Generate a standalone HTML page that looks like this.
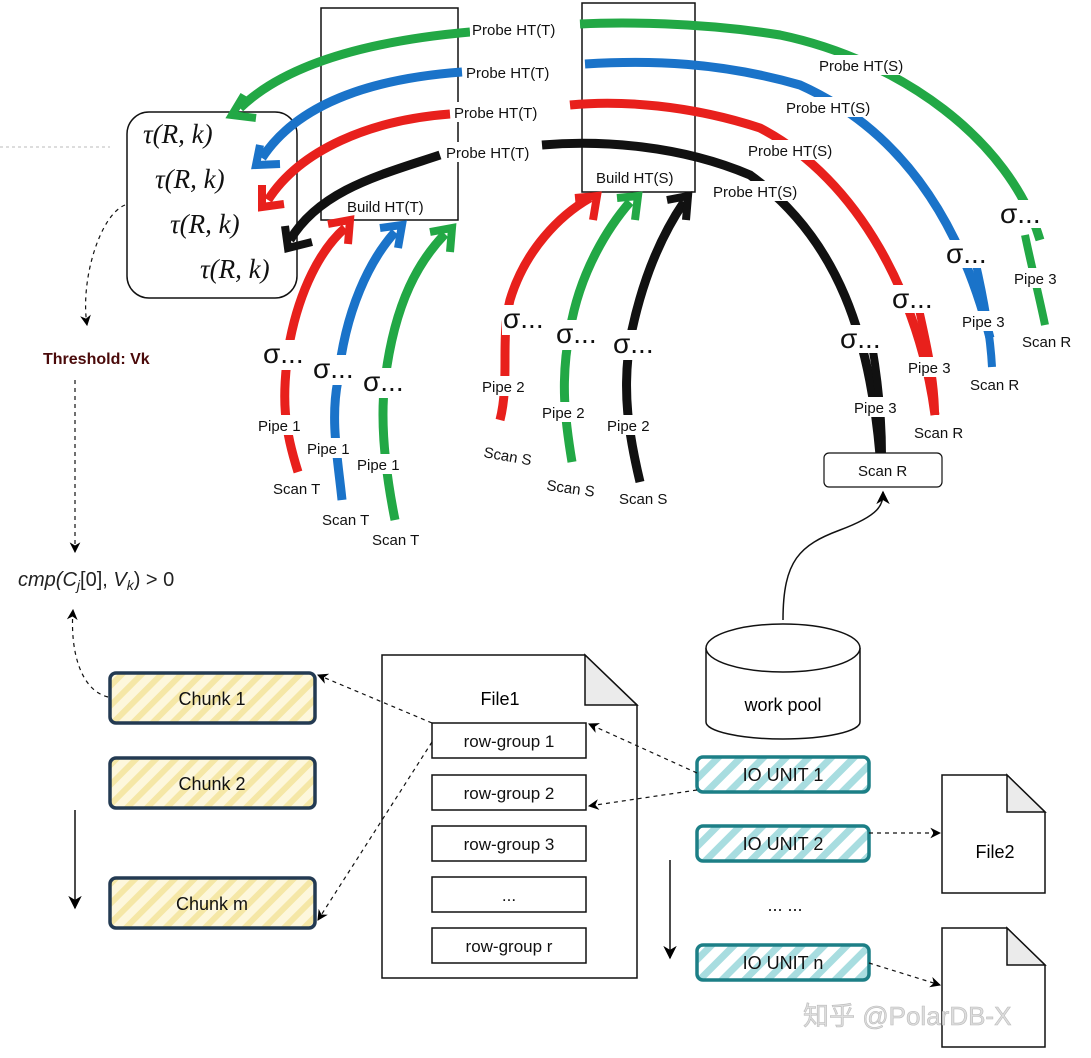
<!DOCTYPE html>
<html><head><meta charset="utf-8"><style>
html,body{margin:0;padding:0;background:#fff;}
svg{display:block;}
text{font-family:"Liberation Sans",sans-serif;}
.lab{font-size:15px;fill:#111;}
.tau{font-family:"Liberation Serif",serif;font-style:italic;font-size:27px;fill:#111;}
.sg{font-family:"Liberation Serif",serif;font-size:28px;fill:#111;}
</style></head><body>
<svg width="1091" height="1058" viewBox="0 0 1091 1058" xmlns="http://www.w3.org/2000/svg">
<defs>
<pattern id="yh" width="14" height="14" patternUnits="userSpaceOnUse" patternTransform="rotate(45)"><rect width="14" height="14" fill="#fdf7dc"/><rect width="6" height="14" fill="#f5e7a6"/></pattern>
<pattern id="th" width="16" height="16" patternUnits="userSpaceOnUse" patternTransform="rotate(45)"><rect width="16" height="16" fill="#fff"/><rect width="7" height="16" fill="#a8dde0"/></pattern>
<marker id="ad" viewBox="0 0 10 10" refX="9" refY="5" markerWidth="9" markerHeight="9" orient="auto"><path d="M0,0 L10,5 L0,10 L3,5z" fill="#000"/></marker>
</defs>
<line x1="0" y1="147" x2="110" y2="147" stroke="#bbb" stroke-dasharray="3,3"/>
<rect x="321" y="8" width="137" height="212" fill="none" stroke="#111" stroke-width="1.5"/>
<rect x="582" y="3" width="113" height="189" fill="none" stroke="#111" stroke-width="1.5"/>
<text x="347" y="212" class="lab" font-size="14">Build HT(T)</text>
<text x="596" y="183" class="lab" font-size="14">Build HT(S)</text>
<rect x="127" y="112" width="170" height="186" rx="22" fill="#fff" stroke="#111" stroke-width="1.5"/>
<text x="143" y="143" class="tau">τ(R, k)</text>
<text x="155" y="188" class="tau">τ(R, k)</text>
<text x="170" y="233" class="tau">τ(R, k)</text>
<text x="200" y="278" class="tau">τ(R, k)</text>
<g fill="none" stroke-width="9" stroke-linecap="butt">
<path d="M1040,240 C1010,140 900,60 780,35 C700,22 620,22 580,24" stroke="#22a845"/>
<path d="M470,32 C380,40 290,60 240,108" stroke="#22a845"/>
<path d="M990,338 C960,220 900,130 800,85 C720,62 650,60 585,64" stroke="#1a73c9"/>
<path d="M462,72 C380,78 300,100 262,158" stroke="#1a73c9"/>
<path d="M935,415 C920,300 860,180 760,128 C690,105 620,100 570,105" stroke="#e8201c"/>
<path d="M450,114 C370,120 300,150 268,200" stroke="#e8201c"/>
<path d="M880,455 C870,340 840,240 750,175 C680,145 600,140 542,145" stroke="#111"/>
<path d="M440,155 C380,175 320,190 290,240" stroke="#111"/>
<path d="M298,472 C285,430 280,400 290,340 C300,290 320,250 345,228" stroke="#e8201c"/>
<path d="M342,500 C338,460 330,420 338,380 C345,310 370,260 395,232" stroke="#1a73c9"/>
<path d="M395,520 C385,470 380,420 385,380 C395,300 420,260 445,234" stroke="#22a845"/>
<path d="M500,420 C510,380 500,340 510,300 C525,250 560,215 590,198" stroke="#e8201c"/>
<path d="M572,462 C565,420 560,380 570,330 C580,270 610,225 630,202" stroke="#22a845"/>
<path d="M640,482 C630,440 620,390 632,330 C645,270 665,230 684,202" stroke="#111"/>
</g>
<g fill="none" stroke-width="8" stroke-linejoin="miter">
<polyline points="244,95 232,115 256,118" stroke="#22a845"/>
<polyline points="260,145 256,165 280,164" stroke="#1a73c9"/>
<polyline points="262,185 262,207 284,204" stroke="#e8201c"/>
<polyline points="285,226 288,248 312,242" stroke="#111"/>
<polyline points="328,224 350,220 348,244" stroke="#e8201c"/>
<polyline points="380,228 402,225 398,248" stroke="#1a73c9"/>
<polyline points="430,232 452,228 450,252" stroke="#22a845"/>
<polyline points="575,198 597,196 593,220" stroke="#e8201c"/>
<polyline points="617,198 638,196 635,220" stroke="#22a845"/>
<polyline points="667,200 688,196 686,220" stroke="#111"/>
</g>
<g class="lab">
<rect x="470" y="19" width="96" height="20" fill="#fff"/><text x="472" y="35">Probe HT(T)</text>
<rect x="464" y="61" width="96" height="20" fill="#fff"/><text x="466" y="78">Probe HT(T)</text>
<rect x="452" y="102" width="96" height="20" fill="#fff"/><text x="454" y="118">Probe HT(T)</text>
<rect x="444" y="142" width="96" height="20" fill="#fff"/><text x="446" y="158">Probe HT(T)</text>
<rect x="817" y="55" width="96" height="20" fill="#fff"/><text x="819" y="71">Probe HT(S)</text>
<rect x="784" y="97" width="96" height="20" fill="#fff"/><text x="786" y="113">Probe HT(S)</text>
<rect x="746" y="140" width="96" height="20" fill="#fff"/><text x="748" y="156">Probe HT(S)</text>
<rect x="711" y="181" width="96" height="20" fill="#fff"/><text x="713" y="197">Probe HT(S)</text>
</g>
<g fill="none" stroke-width="8">
<path d="M1025,235 C1030,260 1040,300 1045,325" stroke="#22a845"/>
<path d="M975,260 C982,290 990,330 992,367" stroke="#1a73c9"/>
<path d="M918,305 C926,340 935,380 935,415" stroke="#e8201c"/>
<path d="M872,345 C878,380 882,420 882,455" stroke="#111"/>
</g>
<g class="sg">
<rect x="1000" y="200" width="48" height="28" fill="#fff"/><text x="1000" y="223">σ...</text>
<rect x="945" y="240" width="50" height="28" fill="#fff"/><text x="946" y="263">σ...</text>
<rect x="892" y="285" width="50" height="28" fill="#fff"/><text x="892" y="308">σ...</text>
<rect x="840" y="325" width="50" height="28" fill="#fff"/><text x="840" y="348">σ...</text>
<rect x="263" y="340" width="52" height="30" fill="#fff"/><text x="263" y="363">σ...</text>
<rect x="313" y="355" width="52" height="30" fill="#fff"/><text x="313" y="378">σ...</text>
<rect x="363" y="368" width="52" height="30" fill="#fff"/><text x="363" y="391">σ...</text>
<rect x="502" y="305" width="52" height="30" fill="#fff"/><text x="503" y="328">σ...</text>
<rect x="555" y="320" width="52" height="30" fill="#fff"/><text x="556" y="343">σ...</text>
<rect x="613" y="330" width="52" height="30" fill="#fff"/><text x="613" y="353">σ...</text>
</g>
<g class="lab">
<rect x="1012" y="268" width="52" height="20" fill="#fff"/><text x="1014" y="284">Pipe 3</text>
<text x="1022" y="347">Scan R</text>
<rect x="960" y="311" width="52" height="20" fill="#fff"/><text x="962" y="327">Pipe 3</text>
<text x="970" y="390">Scan R</text>
<rect x="906" y="357" width="52" height="20" fill="#fff"/><text x="908" y="373">Pipe 3</text>
<text x="914" y="438">Scan R</text>
<rect x="852" y="397" width="52" height="20" fill="#fff"/><text x="854" y="413">Pipe 3</text>
<rect x="256" y="415" width="52" height="20" fill="#fff"/><text x="258" y="431">Pipe 1</text>
<text x="273" y="494">Scan T</text>
<rect x="305" y="438" width="52" height="20" fill="#fff"/><text x="307" y="454">Pipe 1</text>
<text x="322" y="525">Scan T</text>
<rect x="355" y="454" width="52" height="20" fill="#fff"/><text x="357" y="470">Pipe 1</text>
<text x="372" y="545">Scan T</text>
<rect x="480" y="376" width="52" height="20" fill="#fff"/><text x="482" y="392">Pipe 2</text>
<text x="483" y="457" transform="rotate(10 483 457)">Scan S</text>
<rect x="540" y="402" width="52" height="20" fill="#fff"/><text x="542" y="418">Pipe 2</text>
<text x="546" y="490" transform="rotate(8 546 490)">Scan S</text>
<rect x="605" y="415" width="52" height="20" fill="#fff"/><text x="607" y="431">Pipe 2</text>
<text x="619" y="504">Scan S</text>
</g>
<rect x="824" y="453" width="118" height="34" rx="5" fill="#fff" stroke="#111" stroke-width="1.2"/>
<text x="858" y="476" class="lab">Scan R</text>
<text x="43" y="364" font-weight="bold" font-size="16" fill="#4a0a0a">Threshold: Vk</text>
<text x="18" y="586" font-family="Liberation Serif,serif" font-style="italic" font-size="20" fill="#222">cmp(C<tspan font-size="14" dy="4">j</tspan><tspan dy="-4" font-style="normal">[0], </tspan>V<tspan font-size="14" dy="4">k</tspan><tspan dy="-4" font-style="normal">) &gt; 0</tspan></text>
<g stroke="#111" stroke-width="1.5" fill="none">
<line x1="75" y1="810" x2="75" y2="908" marker-end="url(#ad)"/>
<line x1="670" y1="860" x2="670" y2="958" marker-end="url(#ad)"/>
<path d="M783,620 C783,560 800,545 840,530 C880,515 883,505 883,492" marker-end="url(#ad)"/>
</g>
<g stroke="#233a52" stroke-width="3.5" fill="url(#yh)">
<rect x="110" y="673" width="205" height="50" rx="6"/>
<rect x="110" y="758" width="205" height="50" rx="6"/>
<rect x="110" y="878" width="205" height="50" rx="6"/>
</g>
<g font-size="18" fill="#111">
<text x="212" y="705" text-anchor="middle">Chunk 1</text>
<text x="212" y="790" text-anchor="middle">Chunk 2</text>
<text x="212" y="910" text-anchor="middle">Chunk m</text>
</g>
<path d="M382,655 H585 L637,705 V978 H382 Z" fill="#fff" stroke="#111" stroke-width="1.5"/>
<path d="M585,655 V705 H637 Z" fill="#ebebeb" stroke="#111" stroke-width="1.5"/>
<text x="500" y="705" font-size="18" text-anchor="middle">File1</text>
<g fill="#fff" stroke="#111" stroke-width="1.5">
<rect x="432" y="723" width="154" height="35"/>
<rect x="432" y="775" width="154" height="35"/>
<rect x="432" y="826" width="154" height="35"/>
<rect x="432" y="877" width="154" height="35"/>
<rect x="432" y="928" width="154" height="35"/>
</g>
<g font-size="17" text-anchor="middle" fill="#111">
<text x="509" y="747">row-group 1</text>
<text x="509" y="799">row-group 2</text>
<text x="509" y="850">row-group 3</text>
<text x="509" y="901">...</text>
<text x="509" y="952">row-group r</text>
</g>
<path d="M706,648 V722 A77,17 0 0 0 860,722 V648" fill="#fff" stroke="#111" stroke-width="1.5"/>
<ellipse cx="783" cy="648" rx="77" ry="24" fill="#fff" stroke="#111" stroke-width="1.5"/>
<text x="783" y="711" font-size="18" text-anchor="middle">work pool</text>
<g stroke="#1c7f86" stroke-width="3.5" fill="url(#th)">
<rect x="697" y="757" width="172" height="35" rx="6"/>
<rect x="697" y="826" width="172" height="35" rx="6"/>
<rect x="697" y="945" width="172" height="35" rx="6"/>
</g>
<g font-size="18" text-anchor="middle" fill="#111">
<text x="783" y="781">IO UNIT 1</text>
<text x="783" y="850">IO UNIT 2</text>
<text x="783" y="969">IO UNIT n</text>
<text x="785" y="911">... ...</text>
</g>
<path d="M942,775 H1007 L1045,812 V893 H942 Z" fill="#fff" stroke="#111" stroke-width="1.5"/>
<path d="M1007,775 V812 H1045 Z" fill="#ebebeb" stroke="#111" stroke-width="1.5"/>
<text x="995" y="858" font-size="18" text-anchor="middle">File2</text>
<path d="M942,928 H1007 L1045,965 V1047 H942 Z" fill="#fff" stroke="#111" stroke-width="1.5"/>
<path d="M1007,928 V965 H1045 Z" fill="#ebebeb" stroke="#111" stroke-width="1.5"/>
<g fill="none" stroke="#111" stroke-width="1.2" stroke-dasharray="4,4">
<path d="M125,205 C100,215 80,280 87,325" marker-end="url(#ad)"/>
<line x1="75" y1="380" x2="75" y2="552" marker-end="url(#ad)"/>
<path d="M108,697 C80,690 70,650 73,610" marker-end="url(#ad)"/>
<line x1="432" y1="723" x2="318" y2="675" marker-end="url(#ad)"/>
<line x1="432" y1="742" x2="318" y2="920" marker-end="url(#ad)"/>
<line x1="697" y1="773" x2="589" y2="724" marker-end="url(#ad)"/>
<line x1="697" y1="790" x2="589" y2="806" marker-end="url(#ad)"/>
<line x1="869" y1="833" x2="940" y2="833" marker-end="url(#ad)"/>
<line x1="869" y1="963" x2="940" y2="985" marker-end="url(#ad)"/>
</g>
<text x="803" y="1025" font-size="26" fill="#ddd" stroke="#bbb" stroke-width="0.6" font-family="Liberation Sans,Noto Sans CJK SC,sans-serif">知乎 @PolarDB-X</text>
</svg>
</body></html>
